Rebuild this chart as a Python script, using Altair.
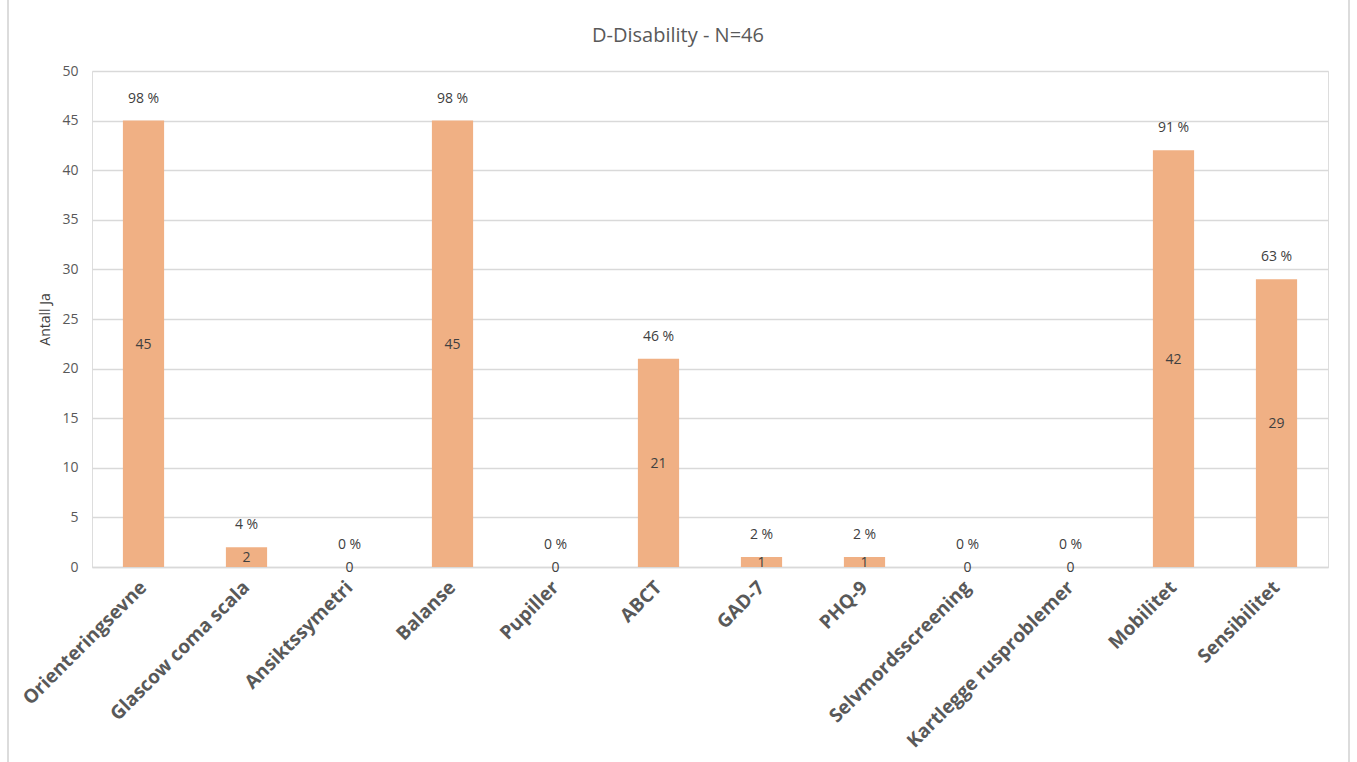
import altair as alt
import pandas as pd

categories = ["Orienteringsevne", "Glascow coma scala", "Ansiktssymetri", "Balanse", "Pupiller",
              "ABCT", "GAD-7", "PHQ-9", "Selvmordsscreening", "Kartlegge rusproblemer",
              "Mobilitet", "Sensibilitet"]
counts = [45, 2, 0, 45, 0, 21, 1, 1, 0, 0, 42, 29]
percents = [98, 4, 0, 98, 0, 46, 2, 2, 0, 0, 91, 63]

df = pd.DataFrame({
    "cat": categories,
    "count": counts,
    "pct": [f"{p} %" for p in percents],
})
df["half"] = df["count"] / 2

FONT = "Open Sans"
TXT = "#404040"

x = alt.X("cat:N", sort=categories, title=None,
          scale=alt.Scale(paddingInner=0.6, paddingOuter=0.3),
          axis=alt.Axis(labelAngle=-45, labelAlign="right", labelBaseline="middle",
                        labelFontSize=19, labelFontWeight="bold", labelColor="#595959",
                        labelFont=FONT, labelPadding=17, ticks=False, domainColor="#d9d9d9",
                        domainWidth=1.5, labelLimit=300))

base = alt.Chart(df)

bars = base.mark_bar(color="#F0B084").encode(
    x=x,
    y=alt.Y("count:Q", title="Antall Ja",
            scale=alt.Scale(domain=[0, 50], nice=False),
            axis=alt.Axis(values=list(range(0, 51, 5)), labelFontSize=14, labelColor="#595959",
                          labelFont=FONT, ticks=False, domain=False, labelPadding=14,
                          gridColor="#d9d9d9", gridWidth=1.5, titleFont=FONT,
                          titleFontSize=14, titleFontWeight="normal", titleColor=TXT,
                          titlePadding=9)),
)

count_text = base.mark_text(font=FONT, fontSize=14, color=TXT, baseline="middle", dy=1).encode(
    x=alt.X("cat:N", sort=categories),
    y=alt.Y("half:Q"),
    text="count:Q",
)

pct_text = base.mark_text(font=FONT, fontSize=14, color=TXT, baseline="middle", dy=-22).encode(
    x=alt.X("cat:N", sort=categories),
    y=alt.Y("count:Q"),
    text="pct:N",
)

border = alt.Chart(pd.DataFrame({"v": [0]})).mark_rule(color="#d0d0d0", strokeWidth=1.5).encode(
    x=alt.value(-84), y=alt.value(-71), y2=alt.value(691)
)
border2 = alt.Chart(pd.DataFrame({"v": [0]})).mark_rule(color="#d0d0d0", strokeWidth=1.5).encode(
    x=alt.value(1257), y=alt.value(-71), y2=alt.value(691)
)

chart = alt.layer(bars, count_text, pct_text, border, border2).properties(
    width=1236, height=496,
    title=alt.TitleParams("D-Disability - N=46", font=FONT, fontSize=20, fontWeight="normal",
                          color="#595959", anchor="middle", dx=-32, offset=-47),
    autosize=alt.AutoSizeParams(type="none"),
    padding={"left": 92, "top": 71, "right": 29, "bottom": 195},
).configure_view(stroke=None).configure(background="white")

chart.save("out.html", embed_options={"renderer": "svg", "actions": False})
